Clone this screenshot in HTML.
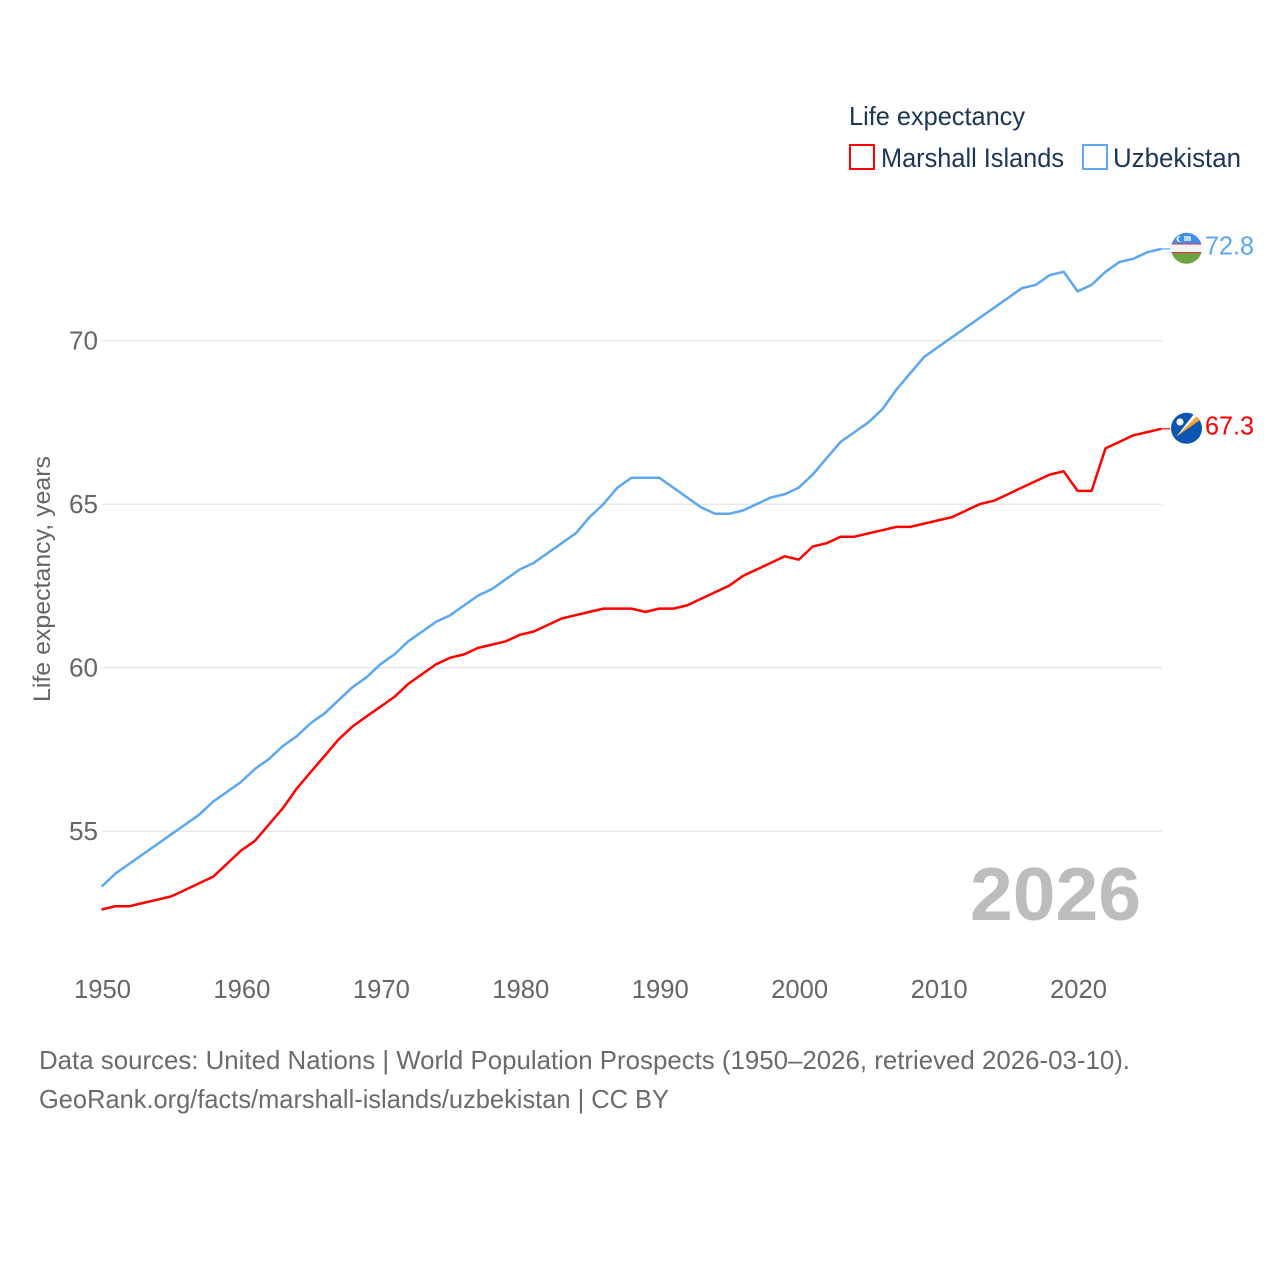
<!DOCTYPE html>
<html lang="en">
<head>
<meta charset="utf-8">
<title>Life expectancy: Marshall Islands vs Uzbekistan</title>
<style>
html,body{margin:0;padding:0;background:#fff;}
svg{display:block;font-family:"Liberation Sans",sans-serif;}
</style>
</head>
<body>
<svg id="chart" width="1280" height="1280" viewBox="0 0 1280 1280" xmlns="http://www.w3.org/2000/svg">
  <g id="grid"></g>
  <g id="yticks"></g>
  <g id="xticks"></g>
  <text transform="translate(50,702) rotate(-90)" font-size="24" fill="#666" textLength="246" lengthAdjust="spacingAndGlyphs">Life expectancy, years</text>
  <text x="970" y="920" font-size="75" font-weight="700" fill="#bdbdbd" textLength="171" lengthAdjust="spacingAndGlyphs">2026</text>
  <g id="series"></g>

  <g>
    <text x="849" y="125" font-size="26" fill="#1d3557" textLength="176" lengthAdjust="spacingAndGlyphs">Life expectancy</text>
    <rect x="850" y="145" width="24" height="24" fill="#fff" stroke="#ff0000" stroke-width="2"/>
    <text x="881" y="167" font-size="27" fill="#1d3557" textLength="183" lengthAdjust="spacingAndGlyphs">Marshall Islands</text>
    <rect x="1083" y="145" width="24" height="24" fill="#fff" stroke="#5ba7f0" stroke-width="2"/>
    <text x="1113" y="167" font-size="27" fill="#1d3557" textLength="128" lengthAdjust="spacingAndGlyphs">Uzbekistan</text>
  </g>

  <defs>
    <clipPath id="flag-clip-uz"><circle cx="1186.5" cy="248.3" r="15.5"/></clipPath>
    <clipPath id="flag-clip-mh"><circle cx="1186.5" cy="428.3" r="15.5"/></clipPath>
  </defs>
  <g clip-path="url(#flag-clip-uz)">
    <rect x="1170" y="232" width="33" height="11.5" fill="#3f8fe8"/>
    <rect x="1170" y="243.5" width="33" height="1" fill="#e8274b"/>
    <rect x="1170" y="244.5" width="33" height="7.5" fill="#f5f5f5"/>
    <rect x="1170" y="252" width="33" height="1" fill="#e8274b"/>
    <rect x="1170" y="253" width="33" height="12" fill="#6ea342"/>
    <circle cx="1179.5" cy="239" r="3" fill="#f4f8fc"/>
    <circle cx="1181" cy="239" r="2.6" fill="#3f8fe8"/>
    <rect x="1184" y="236" width="7" height="5" fill="#bcd8f5"/>
  </g>
  <g clip-path="url(#flag-clip-mh)">
    <rect x="1170" y="412" width="33" height="33" fill="#0c55b0"/>
    <polygon points="1176,437 1197,416 1200,420" fill="#f6a52c"/>
    <polygon points="1176,437 1194,414 1197,416" fill="#ffffff"/>
    <circle cx="1180" cy="422" r="3.6" fill="#eef3f9"/>
  </g>

  <g>
    <text x="39" y="1069" font-size="26" fill="#6b6b6b" textLength="1091" lengthAdjust="spacingAndGlyphs">Data sources: United Nations | World Population Prospects (1950–2026, retrieved 2026-03-10).</text>
    <text x="39" y="1108" font-size="26" fill="#6b6b6b" textLength="630" lengthAdjust="spacingAndGlyphs">GeoRank.org/facts/marshall-islands/uzbekistan | CC BY</text>
  </g>
</svg>
<script>
const startYear = 1950;
const xTickLabels = [1950, 1960, 1970, 1980, 1990, 2000, 2010, 2020];
const yTickLabels = [55, 60, 65, 70];
const marshallIslands = [52.6,52.7,52.7,52.8,52.9,53.0,53.2,53.4,53.6,54.0,54.4,54.7,55.2,55.7,56.3,56.8,57.3,57.8,58.2,58.5,58.8,59.1,59.5,59.8,60.1,60.3,60.4,60.6,60.7,60.8,61.0,61.1,61.3,61.5,61.6,61.7,61.8,61.8,61.8,61.7,61.8,61.8,61.9,62.1,62.3,62.5,62.8,63.0,63.2,63.4,63.3,63.7,63.8,64.0,64.0,64.1,64.2,64.3,64.3,64.4,64.5,64.6,64.8,65.0,65.1,65.3,65.5,65.7,65.9,66.0,65.4,65.4,66.7,66.9,67.1,67.2,67.3];
const uzbekistan = [53.3,53.7,54.0,54.3,54.6,54.9,55.2,55.5,55.9,56.2,56.5,56.9,57.2,57.6,57.9,58.3,58.6,59.0,59.4,59.7,60.1,60.4,60.8,61.1,61.4,61.6,61.9,62.2,62.4,62.7,63.0,63.2,63.5,63.8,64.1,64.6,65.0,65.5,65.8,65.8,65.8,65.5,65.2,64.9,64.7,64.7,64.8,65.0,65.2,65.3,65.5,65.9,66.4,66.9,67.2,67.5,67.9,68.5,69.0,69.5,69.8,70.1,70.4,70.7,71.0,71.3,71.6,71.7,72.0,72.1,71.5,71.7,72.1,72.4,72.5,72.7,72.8];

const NS = 'http://www.w3.org/2000/svg';
const xScale = year => 101.6 + (year - 1950) * 13.943;
const yScale = value => 340.5 + (70 - value) * 32.7;

function make(tag, attrs, parent, text) {
  const el = document.createElementNS(NS, tag);
  for (const k in attrs) el.setAttribute(k, attrs[k]);
  if (text !== undefined) el.textContent = text;
  parent.appendChild(el);
  return el;
}

const gridGroup = document.getElementById('grid');
const yGroup = document.getElementById('yticks');
const xGroup = document.getElementById('xticks');
const seriesGroup = document.getElementById('series');

yTickLabels.forEach(v => {
  const line = make('line', {x1: 102, x2: 1162, y1: yScale(v) + 0.3, y2: yScale(v) + 0.3, stroke: '#e8e8e8', 'stroke-width': 1.5}, gridGroup);
  
  
  const label = make('text', {x: 98, y: yScale(v) + 9, 'text-anchor': 'end', 'font-size': 26, fill: '#666', textLength: 29, lengthAdjust: 'spacingAndGlyphs'}, yGroup, String(v));
  
  
});

xTickLabels.forEach(y => {
  const label = make('text', {x: xScale(y) + 0.9, y: 998, 'text-anchor': 'middle', 'font-size': 26, fill: '#666', textLength: 57, lengthAdjust: 'spacingAndGlyphs'}, xGroup, String(y));
  
  
});

function drawSeries(values, color, key) {
  const pts = values.map((v, i) => xScale(startYear + i).toFixed(1) + ',' + yScale(v).toFixed(1)).join(' ');
  const line = make('polyline', {points: pts, fill: 'none', stroke: color, 'stroke-width': 2.5, 'stroke-linejoin': 'round'}, seriesGroup);
  
  
  const last = values[values.length - 1];
  const endX = xScale(startYear + values.length - 1);
  const connector = make('line', {x1: endX, x2: endX + 9, y1: yScale(last), y2: yScale(last), stroke: color, 'stroke-width': 1.2}, seriesGroup);
  
  
  const label = make('text', {x: 1205, y: yScale(last) + 5.5, 'font-size': 26, fill: color, textLength: 49, lengthAdjust: 'spacingAndGlyphs'}, seriesGroup, last.toFixed(1));
  
  
}

drawSeries(marshallIslands, '#ff0000', 'marshall-islands');
drawSeries(uzbekistan, '#5ba7f0', 'uzbekistan');
</script>
</body>
</html>
